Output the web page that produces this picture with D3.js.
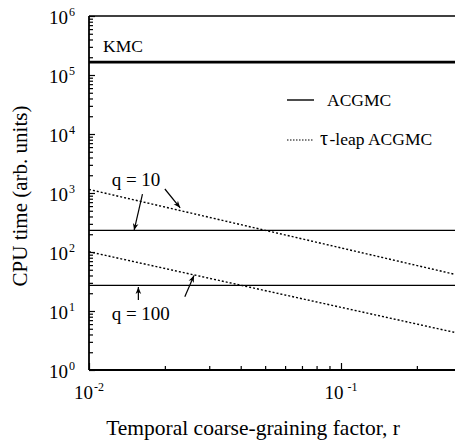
<!DOCTYPE html>
<html><head><meta charset="utf-8">
<script src="https://cdn.jsdelivr.net/npm/d3@7"></script>
<style>body{margin:0;background:#fff}svg{display:block}text{font-family:"Liberation Serif","Times New Roman",serif;fill:#000}</style>
</head><body><svg id="c" width="455" height="442"></svg>
<script>
// ---- data ----
const rRange = [0.01, 0.3];
const kmcValue = 1.65e5;
const acgmcQ10 = 233;
const acgmcQ100 = 27.2;
const tauR = [0.01, 0.3];
const tauQ10 = [1150, 39.5];
const tauQ100 = [101, 4.1];
const yMajorTicks = [1, 10, 100, 1000, 10000, 100000, 1000000];
const yTickExps = ["0","1","2","3","4","5","6"];
const xMajorTicks = [0.01, 0.1];
const xTickExps = ["-2", "-1"];
const legendLabels = ["ACGMC", "\u03c4", "-leap ACGMC"];
const xTitle = "Temporal coarse-graining factor, r";
const yTitle = "CPU time (arb. units)";
const arrows = [ // [r0, y0, r1, y1]
  [0.0163, 960, 0.0151, 233],
  [0.0200, 1169, 0.0230, 560],
  [0.0157, 15.4, 0.0157, 25.5],
  [0.0240, 17.5, 0.0261, 40]
];
const labels = [
  {r: 0.0123, v: 1315, t: "q = 10"},
  {r: 0.0123, v: 7.0, t: "q = 100"},
  {r: 0.01137, v: 2.45e5, t: "KMC"}
];

// ---- layout ----
const svg = d3.select("#c");
const L = 89, T = 16, B = 370;
const x = d3.scaleLog().domain(rRange).range([L, L + 252 * Math.log10(30)]);
const y = d3.scaleLog().domain([1, 1e6]).range([B, T]);
const W = 455;

svg.append("defs").append("marker").attr("id","ah").attr("viewBox","0 0 10 10")
  .attr("refX",10).attr("refY",5).attr("markerWidth",9).attr("markerHeight",7)
  .attr("markerUnits","userSpaceOnUse").attr("orient","auto")
  .append("path").attr("d","M0,1 L10,5 L0,9 L3,5 Z").attr("fill","#000");

// minor ticks
const yMinor = [];
for (let e = 0; e < 6; e++) for (let k = 2; k <= 9; k++) yMinor.push(k * Math.pow(10, e));
const xMinor = [];
for (let e = -2; e < 0; e++) for (let k = 2; k <= 9; k++) { const v = k * Math.pow(10, e); if (v <= 0.3) xMinor.push(v); }

const axStyle = g => { g.select(".domain").remove(); g.selectAll("line").attr("stroke","#000").attr("stroke-width",1.2); g.selectAll("text").remove(); };

svg.append("g").attr("transform",`translate(${L},0)`)
  .call(d3.axisLeft(y).tickValues(yMinor).tickSize(-4)).call(axStyle);
svg.append("g").attr("transform",`translate(${L},0)`)
  .call(d3.axisLeft(y).tickValues(yMajorTicks).tickSize(-6)).call(axStyle);
svg.append("g").attr("transform",`translate(0,${B})`)
  .call(d3.axisBottom(x).tickValues(xMinor).tickSize(-4)).call(axStyle);
svg.append("g").attr("transform",`translate(0,${B})`)
  .call(d3.axisBottom(x).tickValues(xMajorTicks).tickSize(-7)).call(axStyle);

// frame
svg.append("line").attr("x1",L).attr("x2",W).attr("y1",T).attr("y2",T).attr("stroke","#000").attr("stroke-width",1.5);
svg.append("line").attr("x1",L).attr("x2",W).attr("y1",B).attr("y2",B).attr("stroke","#000").attr("stroke-width",1.8);
svg.append("line").attr("x1",L).attr("x2",L).attr("y1",T).attr("y2",B).attr("stroke","#000").attr("stroke-width",1.8);

// y tick labels
yMajorTicks.forEach((v, i) => {
  const t = svg.append("text").attr("x", 49).attr("y", y(v) + 8).attr("font-size", 19);
  t.append("tspan").text("10");
  t.append("tspan").attr("dx", 1).attr("dy", -8).attr("font-size", 12).text(yTickExps[i]);
});
// x tick labels
xMajorTicks.forEach((v, i) => {
  const t = svg.append("text").attr("x", x(v)).attr("y", 399).attr("font-size", 19).attr("text-anchor","middle");
  t.append("tspan").text("10");
  t.append("tspan").attr("dx", i === 0 ? 1 : 4).attr("dy", -8).attr("font-size", 12).text(xTickExps[i]);
});

// titles
svg.append("text").attr("x", 253).attr("y", 435).attr("font-size", 21.5).attr("text-anchor","middle").text(xTitle);
svg.append("text").attr("transform","translate(27,196) rotate(-90)").attr("font-size", 21).attr("text-anchor","middle").text(yTitle);

// data lines
svg.append("defs").append("clipPath").attr("id","pc").append("rect").attr("x",L).attr("y",T).attr("width",W-L).attr("height",B-T);
const plot = svg.append("g").attr("clip-path","url(#pc)");
plot.append("line").attr("x1",x(rRange[0])).attr("x2",x(rRange[1])).attr("y1",y(kmcValue)).attr("y2",y(kmcValue)).attr("stroke","#000").attr("stroke-width",2.6);
[acgmcQ10, acgmcQ100].forEach(v => plot.append("line").attr("x1",x(rRange[0])).attr("x2",x(rRange[1])).attr("y1",y(v)).attr("y2",y(v)).attr("stroke","#000").attr("stroke-width",1.4));
const line = d3.line().x(d => x(d[0])).y(d => y(d[1]));
[tauQ10, tauQ100].forEach(s => plot.append("path").datum(tauR.map((r, i) => [r, s[i]])).attr("d", line)
  .attr("fill","none").attr("stroke","#000").attr("stroke-width",1.4).attr("stroke-dasharray","2,2"));

// annotations
arrows.forEach(a => svg.append("line").attr("x1",x(a[0])).attr("y1",y(a[1])).attr("x2",x(a[2])).attr("y2",y(a[3]))
  .attr("stroke","#000").attr("stroke-width",1.2).attr("marker-end","url(#ah)"));
labels.forEach(l => svg.append("text").attr("x", x(l.r)).attr("y", y(l.v)).attr("font-size", l.t === "KMC" ? 17.5 : 19).text(l.t));

// legend
const lg = svg.append("g");
lg.append("line").attr("x1",287).attr("x2",314).attr("y1",100).attr("y2",100).attr("stroke","#000").attr("stroke-width",1.4);
lg.append("line").attr("x1",287).attr("x2",314).attr("y1",140).attr("y2",140).attr("stroke","#000").attr("stroke-width",1.2).attr("stroke-dasharray","1.5,1.5");
lg.append("text").attr("x",327).attr("y",106).attr("font-size",17.5).text(legendLabels[0]);
const t2 = lg.append("text").attr("x",320).attr("y",145).attr("font-size",17.5);
t2.append("tspan").attr("font-size",20).text(legendLabels[1]);
t2.append("tspan").attr("dx",1.5).text(legendLabels[2]);
</script></body></html>
